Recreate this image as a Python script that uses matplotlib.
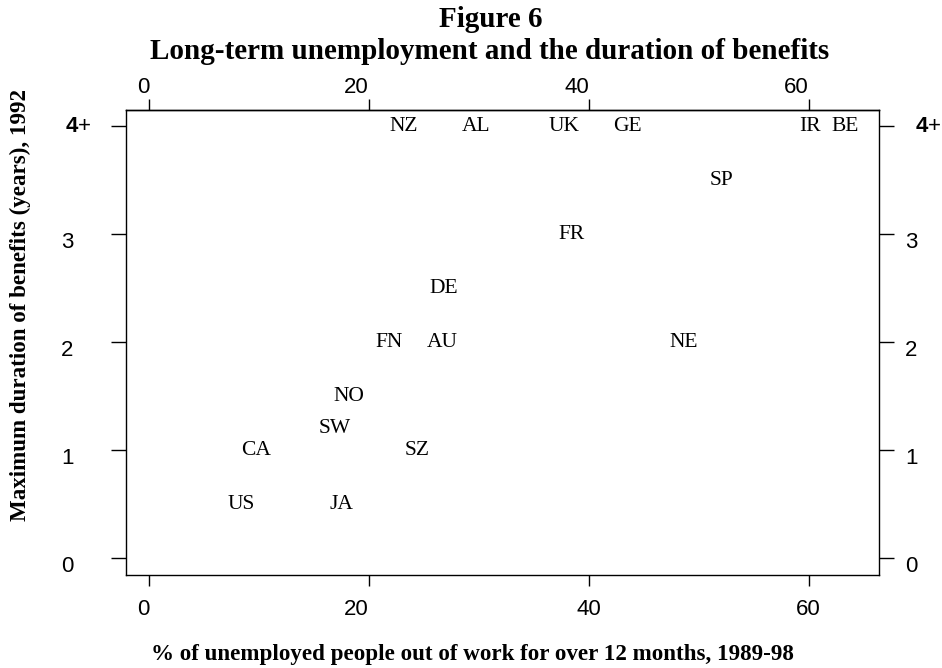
import matplotlib
matplotlib.use("Agg")
import matplotlib.pyplot as plt
from matplotlib.transforms import ScaledTranslation

countries = ["NZ", "AL", "UK", "GE", "IR", "BE", "SP", "FR", "DE", "FN", "AU", "NE",
             "NO", "SW", "CA", "SZ", "US", "JA"]
long_term_pct = [23.2, 29.7, 37.7, 43.5, 60.1, 63.3, 52.1, 38.4, 26.8, 21.8, 26.7, 48.6,
                 18.2, 16.9, 9.7, 24.4, 8.4, 17.5]
benefit_years = [4, 4, 4, 4, 4, 4, 3.5, 3.0, 2.5, 2, 2, 2,
                 1.5, 1.2, 1, 1, 0.5, 0.5]
x_ticks = [0, 20, 40, 60]
y_ticks = [0, 1, 2, 3, 4]
y_ticklabels = ["0", "1", "2", "3", r"$\mathbf{4}$+"]

serif = "Liberation Serif"
sans = "Liberation Sans"
plt.rcParams["mathtext.fontset"] = "custom"
plt.rcParams["mathtext.bf"] = "Liberation Sans:bold"
plt.rcParams["mathtext.rm"] = "Liberation Sans"

fig = plt.figure(figsize=(9.42, 6.68), dpi=100)
ax = fig.add_axes([0.1338, 0.1392, 0.7994, 0.6961])
ax.set_xlim(-2.1, 66.4)
ax.set_ylim(-0.157, 4.148)

for c, x, y in zip(countries, long_term_pct, benefit_years):
    ax.text(x, y, c, ha="center", va="center", fontsize=15.5, family=serif)

for s in ax.spines.values():
    s.set_linewidth(1.0)

# bottom x axis
ax.set_xticks(x_ticks)
ax.set_xticklabels([str(t) for t in x_ticks], family=sans)
for lab, h in zip(ax.get_xticklabels(), ["right", "right", "center", "center"]):
    lab.set_horizontalalignment(h)
ax.tick_params(axis="x", direction="out", length=8, width=1.0, pad=9, labelsize=16)

# top x axis
top = ax.secondary_xaxis("top")
top.set_xticks(x_ticks)
top.set_xticklabels([str(t) for t in x_ticks], ha="right", family=sans)
top.tick_params(axis="x", direction="out", length=8, width=1.0, pad=1, labelsize=16)
top.spines["top"].set_linewidth(1.0)

# y axes: tick marks on both sides, labels as text
ax.set_yticks(y_ticks)
ax.set_yticklabels([])
ax.tick_params(axis="y", direction="out", length=11, width=1.0, left=True, right=True)

ytrans = ax.get_yaxis_transform()
for v, lab in zip(y_ticks, y_ticklabels):
    is_top = v == y_ticks[-1]
    dy = 0 if is_top else -6 / 72
    off = ScaledTranslation(0, dy, fig.dpi_scale_trans)
    ax.text(-0.081 if is_top else -0.0863, v, lab, transform=ytrans + off,
            ha="left", va="center", fontsize=16, family=sans, clip_on=False)
    ax.text(1.0478 if is_top else 1.0345, v, lab, transform=ytrans + off,
            ha="left", va="center", fontsize=16, family=sans, clip_on=False)

fig.text(0.521, 1 - 27 / 668, "Figure 6", ha="center", va="baseline", fontsize=21,
         fontweight="bold", family=serif)
fig.text(0.520, 1 - 59 / 668, "Long-term unemployment and the duration of benefits",
         ha="center", va="baseline", fontsize=21, fontweight="bold", family=serif)
fig.text(0.502, 1 - 660 / 668, "% of unemployed people out of work for over 12 months, 1989-98",
         ha="center", va="baseline", fontsize=16.6, fontweight="bold", family=serif)
fig.text(0.0212, 1 - 305 / 668, "Maximum duration of benefits (years), 1992", rotation=90,
         ha="center", va="center", fontsize=16.6, fontweight="bold", family=serif)

fig.savefig("out.png", dpi=100)
